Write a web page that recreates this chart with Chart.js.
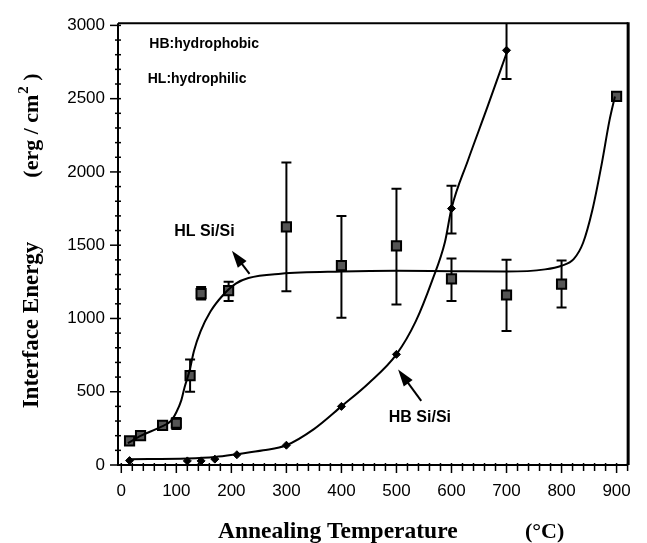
<!DOCTYPE html>
<html>
<head>
<meta charset="utf-8">
<script src="https://cdn.jsdelivr.net/npm/chart.js@4.4.1/dist/chart.umd.min.js"></script>
<style>
  html, body { margin: 0; padding: 0; background: #fff; }
  #wrap { width: 647px; height: 543px; position: relative; }
</style>
</head>
<body>
<div id="wrap"><canvas id="energyChart"></canvas></div>
<script>
/* ---------- data ---------- */
// HL Si/Si (hydrophilic) measured points, squares
const hlTemp    = [15, 35, 75, 100, 125, 145, 195, 300, 400, 500, 600, 700, 800, 900];
const hlEnergy  = [165, 200, 270, 285, 610, 1170, 1190, 1625, 1360, 1495, 1270, 1160, 1235, 2515];
const hlErrLow  = [null, null, null, 245, 500, 1130, 1120, 1185, 1005, 1095, 1120, 915, 1075, null];
const hlErrHigh = [null, null, null, 320, 720, 1215, 1250, 2065, 1700, 1885, 1410, 1400, 1395, null];

// HB Si/Si (hydrophobic) measured points, small diamonds
const hbTemp    = [15, 120, 145, 170, 210, 300, 400, 500, 600, 700];
const hbEnergy  = [30, 28, 28, 40, 70, 135, 400, 755, 1750, 2830];
const hbErrLow  = [null, null, null, null, null, null, null, null, 1580, 2635];
const hbErrHigh = [null, null, null, null, null, null, null, null, 1905, 3030];

// hand-drawn fit curves
const hlFitTemp   = [12, 36, 72, 90, 100, 109, 115, 124, 132, 144, 162, 185, 208, 231, 290, 400, 500, 600, 700, 770, 800, 822, 839, 856, 873, 887, 897];
const hlFitEnergy = [150, 200, 260, 300, 360, 441, 531, 643, 778, 912, 1047, 1160, 1238, 1276, 1305, 1320, 1325, 1322, 1320, 1335, 1360, 1405, 1515, 1740, 2055, 2350, 2515];
const hbFitTemp   = [15, 120, 170, 212, 258, 300, 350, 400, 450, 500, 535, 565, 588, 600, 630, 665, 700];
const hbFitEnergy = [40, 45, 55, 75, 100, 135, 245, 400, 560, 755, 980, 1260, 1520, 1750, 2080, 2440, 2810];

// axis ticks
const xTicks = [0, 100, 200, 300, 400, 500, 600, 700, 800, 900];
const yTicks = [0, 500, 1000, 1500, 2000, 2500, 3000];

/* ---------- helpers ---------- */
const toPoints = (xs, ys) => xs.map((v, i) => ({ x: v, y: ys[i] }));
const SANS  = "'Liberation Sans', Arial, Helvetica, sans-serif";
const SERIF = "'Liberation Serif', 'Times New Roman', serif";

/* ---------- plugins ---------- */
// vertical error bars with caps, under the markers
const errorBars = {
  id: 'errorBars',
  beforeDatasetsDraw(chart) {
    const { ctx, chartArea: a, scales: { x, y } } = chart;
    ctx.save();
    ctx.beginPath();
    ctx.rect(a.left, a.top, a.right - a.left, a.bottom - a.top);
    ctx.clip();
    ctx.strokeStyle = '#000';
    ctx.lineWidth = 2;
    const draw = (temps, lo, hi) => {
      temps.forEach((t, i) => {
        if (lo[i] == null) return;
        const px = x.getPixelForValue(t);
        const y1 = y.getPixelForValue(lo[i]);
        const y2 = y.getPixelForValue(hi[i]);
        ctx.beginPath();
        ctx.moveTo(px, y1); ctx.lineTo(px, y2);
        ctx.moveTo(px - 5, y1); ctx.lineTo(px + 5, y1);
        ctx.moveTo(px - 5, y2); ctx.lineTo(px + 5, y2);
        ctx.stroke();
      });
    };
    draw(hlTemp, hlErrLow, hlErrHigh);
    draw(hbTemp, hbErrLow, hbErrHigh);
    ctx.restore();
  }
};

// text labels and arrows inside the plot
const notes = {
  id: 'notes',
  afterDatasetsDraw(chart) {
    const { ctx, scales: { x, y } } = chart;
    ctx.save();
    ctx.fillStyle = '#000';
    ctx.textBaseline = 'alphabetic';
    ctx.textAlign = 'left';

    ctx.font = 'bold 14px ' + SANS;
    ctx.fillText('HB:hydrophobic', x.getPixelForValue(51), y.getPixelForValue(2843));
    ctx.fillText('HL:hydrophilic', x.getPixelForValue(48), y.getPixelForValue(2607));

    ctx.font = 'bold 16px ' + SANS;
    ctx.fillText('HL Si/Si', x.getPixelForValue(96), y.getPixelForValue(1561));
    ctx.fillText('HB Si/Si', x.getPixelForValue(486), y.getPixelForValue(292));

    const arrow = (tx, ty, ex, ey) => {
      const x1 = x.getPixelForValue(tx), y1 = y.getPixelForValue(ty);
      const x2 = x.getPixelForValue(ex), y2 = y.getPixelForValue(ey);
      const ang = Math.atan2(y2 - y1, x2 - x1);
      const len = 17, half = 5.5;
      ctx.strokeStyle = '#000';
      ctx.lineWidth = 2;
      ctx.beginPath();
      ctx.moveTo(x1 + Math.cos(ang) * len * 0.8, y1 + Math.sin(ang) * len * 0.8);
      ctx.lineTo(x2, y2);
      ctx.stroke();
      const bx = x1 + Math.cos(ang) * len, by = y1 + Math.sin(ang) * len;
      ctx.beginPath();
      ctx.moveTo(x1, y1);
      ctx.lineTo(bx - Math.sin(ang) * half, by + Math.cos(ang) * half);
      ctx.lineTo(bx + Math.sin(ang) * half, by - Math.cos(ang) * half);
      ctx.closePath();
      ctx.fill();
    };
    arrow(201, 1462, 233, 1304);
    arrow(503, 652, 545, 438);
    ctx.restore();
  }
};

// boxed frame, crossing tick marks and axis titles
const frameAndTitles = {
  id: 'frameAndTitles',
  afterDraw(chart) {
    const { ctx, chartArea: a, scales: { x, y } } = chart;
    ctx.save();
    ctx.strokeStyle = '#000';
    ctx.lineWidth = 1.5;
    for (let v = 0; v <= 3000; v += 100) {
      const py = y.getPixelForValue(v);
      const major = v % 500 === 0;
      ctx.beginPath();
      ctx.moveTo(a.left - (major ? 8 : 3), py);
      ctx.lineTo(a.left + 3, py);
      ctx.stroke();
    }
    for (let v = 0; v <= 920; v += 20) {
      const px = x.getPixelForValue(v);
      const major = v % 100 === 0;
      ctx.beginPath();
      ctx.moveTo(px, a.bottom + (major ? 8 : 6));
      ctx.lineTo(px, a.bottom - 2);
      ctx.stroke();
    }

    ctx.lineWidth = 2;
    ctx.beginPath();
    ctx.moveTo(a.left, a.top);
    ctx.lineTo(a.left, a.bottom);
    ctx.lineTo(a.right, a.bottom);
    ctx.moveTo(a.left, a.top);
    ctx.lineTo(a.right, a.top);
    ctx.stroke();
    ctx.lineWidth = 3;
    ctx.beginPath();
    ctx.moveTo(a.right, a.top - 1);
    ctx.lineTo(a.right, a.bottom);
    ctx.stroke();

    // x title
    ctx.fillStyle = '#000';
    ctx.font = 'bold 23.5px ' + SERIF;
    ctx.textAlign = 'left';
    ctx.textBaseline = 'alphabetic';
    ctx.fillText('Annealing Temperature', 218, 538);
    ctx.font = 'bold 22px ' + SERIF;
    ctx.fillText('(°C)', 525, 538);

    // y title (rotated)
    ctx.translate(38, 0);
    ctx.rotate(-Math.PI / 2);
    ctx.textAlign = 'center';
    ctx.font = 'bold 23px ' + SERIF;
    ctx.fillText('Interface Energy', -325, 0);
    ctx.font = 'bold 22px ' + SERIF;
    const p1 = '(erg / cm', p3 = ' )';
    const w1 = ctx.measureText(p1).width;
    ctx.font = 'bold 15px ' + SERIF;
    const w2 = ctx.measureText('2').width;
    ctx.font = 'bold 22px ' + SERIF;
    const w3 = ctx.measureText(p3).width;
    let start = -126 - (w1 + w2 + w3) / 2;
    ctx.textAlign = 'left';
    ctx.fillText(p1, start, 0);
    ctx.font = 'bold 15px ' + SERIF;
    ctx.fillText('2', start + w1 + 1, -10);
    ctx.font = 'bold 22px ' + SERIF;
    ctx.fillText(p3, start + w1 + w2 + 1, 0);
    ctx.restore();
  }
};

/* ---------- chart ---------- */
new Chart(document.getElementById('energyChart'), {
  type: 'scatter',
  data: {
    datasets: [
      {
        label: 'HL fit',
        type: 'line',
        data: toPoints(hlFitTemp, hlFitEnergy),
        borderColor: '#000',
        borderWidth: 2,
        pointRadius: 0,
        cubicInterpolationMode: 'monotone',
        fill: false,
      },
      {
        label: 'HB fit',
        type: 'line',
        data: toPoints(hbFitTemp, hbFitEnergy),
        borderColor: '#000',
        borderWidth: 2,
        pointRadius: 0,
        cubicInterpolationMode: 'monotone',
        fill: false,
      },
      {
        label: 'HL Si/Si',
        data: toPoints(hlTemp, hlEnergy),
        pointStyle: 'rect',
        pointRadius: 6.5,
        backgroundColor: '#555',
        borderColor: '#000',
        borderWidth: 2,
      },
      {
        label: 'HB Si/Si',
        data: toPoints(hbTemp, hbEnergy),
        pointStyle: 'rectRot',
        pointRadius: 4,
        backgroundColor: '#000',
        borderColor: '#000',
        borderWidth: 1,
      },
    ],
  },
  options: {
    responsive: true,
    maintainAspectRatio: false,
    animation: false,
    layout: { padding: { left: 0, right: 10, top: 18, bottom: 0 } },
    plugins: {
      legend: { display: false },
      tooltip: { enabled: false },
    },
    scales: {
      x: {
        type: 'linear',
        min: -6,
        max: 921,
        afterBuildTicks: s => { s.ticks = xTicks.map(v => ({ value: v })); },
        afterFit: s => { s.height = 78; },
        grid: { display: false, drawTicks: false },
        border: { display: false },
        ticks: {
          padding: 16,
          autoSkip: false,
          maxRotation: 0,
          color: '#000',
          font: { family: SANS, size: 17 },
          callback: v => String(v),
        },
      },
      y: {
        type: 'linear',
        min: 0,
        max: 3015,
        afterBuildTicks: s => { s.ticks = yTicks.map(v => ({ value: v })); },
        afterFit: s => { s.width = 118; },
        grid: { display: false, drawTicks: false },
        border: { display: false },
        ticks: {
          padding: 13,
          color: '#000',
          font: { family: SANS, size: 17 },
          callback: v => String(v),
        },
      },
    },
  },
  plugins: [errorBars, notes, frameAndTitles],
});
</script>
</body>
</html>
